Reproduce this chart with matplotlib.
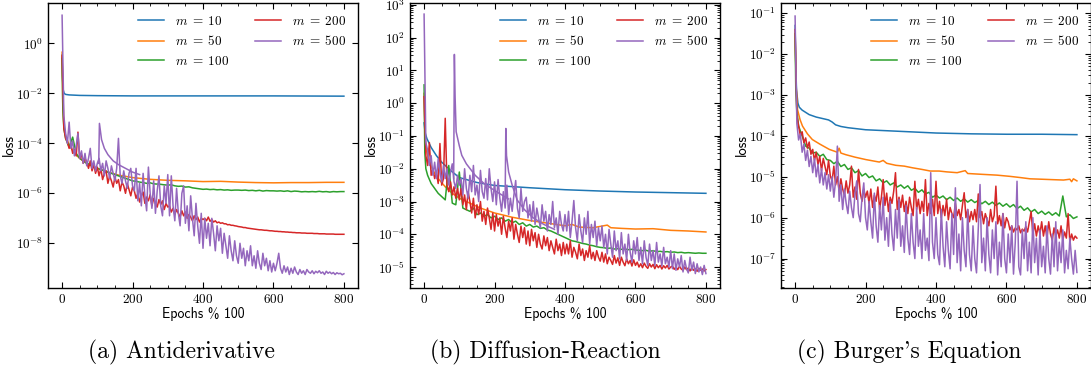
import numpy as np
import matplotlib
matplotlib.use("Agg")
import matplotlib.pyplot as plt
from matplotlib.ticker import FuncFormatter, LogLocator, MultipleLocator, NullLocator

plt.rcParams["mathtext.fontset"] = "cm"

# -----------------------------
# data (log10 of loss)
# -----------------------------
EPOCHS10 = np.r_[0, 2, 5, np.arange(10, 801, 10)]   # grid for the calmer runs
EPOCHS5 = np.arange(0, 801, 5)                      # grid for the noisy runs
LABELS = [r"$m\;=\;10$", r"$m\;=\;50$", r"$m\;=\;100$", r"$m\;=\;200$", r"$m\;=\;500$"]
CAPTIONS = ["(a) Antiderivative", "(b) Diffusion-Reaction", "(c) Burger's Equation"]

# (a) Antiderivative
A_M10 = [(0, -0.45), (1, -1.3), (3, -1.85), (6, -2.0), (10, -2.04), (20, -2.06), (50, -2.08),
         (100, -2.09), (200, -2.1), (400, -2.1), (600, -2.1), (800, -2.11)]
A_M50 = [(0, -0.35), (2, -2.5), (5, -3.3), (10, -3.7), (20, -4.05), (35, -4.4), (50, -4.6),
         (75, -4.85), (100, -5.0), (130, -5.15), (160, -5.27), (200, -5.37), (250, -5.44),
         (300, -5.48), (350, -5.5), (400, -5.53), (450, -5.52), (500, -5.55), (550, -5.57),
         (600, -5.58), (650, -5.57), (700, -5.57), (750, -5.56), (800, -5.56)]
A_M100 = [
    -0.6, -2.6, -3.4,
    -3.8, -4.15, -3.75, -4.4, -4.6, -4.7, -4.8, -4.85, -4.95, -5.0,
    -5.05, -5.1, -5.15, -5.2, -5.25, -5.3, -5.35, -5.4, -5.45, -5.5,
    -5.52, -5.55, -5.57, -5.6, -5.58, -5.62, -5.63, -5.64, -5.66, -5.67,
    -5.66, -5.7, -5.72, -5.71, -5.75, -5.74, -5.78, -5.8, -5.82, -5.84,
    -5.83, -5.85, -5.84, -5.86, -5.85, -5.87, -5.86, -5.88, -5.87, -5.87,
    -5.88, -5.87, -5.89, -5.88, -5.9, -5.88, -5.91, -5.89, -5.9, -5.9,
    -5.91, -5.9, -5.92, -5.9, -5.93, -5.91, -5.92, -5.94, -5.93, -5.94,
    -5.93, -5.94, -5.92, -5.94, -5.93, -5.95, -5.93, -5.94, -5.93, -5.93,
]
A_M200 = [
    -0.5,
    -3.4, -3.8, -3.95, -4.2, -4.05, -4.4, -4.25, -4.5, -3.55, -4.6,
    -4.45, -4.8, -4.6, -4.75, -5.0, -4.7, -5.1, -4.85, -5.2, -4.95,
    -5.3, -5.0, -5.45, -5.2, -5.1, -5.6, -5.3, -5.5, -5.75, -5.35,
    -5.6, -5.45, -5.9, -5.55, -5.7, -6.0, -5.6, -5.85, -6.1, -5.75,
    -5.9, -6.2, -6.0, -6.35, -6.1, -5.95, -6.4, -6.15, -6.3, -6.05,
    -6.5, -6.2, -6.4, -6.55, -6.25, -6.45, -6.3, -6.65, -6.4, -6.55,
    -6.5, -6.75, -6.6, -6.85, -6.65, -6.8, -6.95, -6.7, -6.9, -6.75,
    -7.0, -6.85, -6.95, -7.1, -6.9, -7.05, -6.95, -7.15, -7.0, -7.05,
    -7.0, -7.1, -6.95, -7.12, -7.05, -7.15, -7.1, -7.18, -7.15, -7.2,
    -7.18, -7.22, -7.22, -7.26, -7.25, -7.28, -7.28, -7.3, -7.31, -7.33,
    -7.34, -7.35, -7.37, -7.37, -7.39, -7.4, -7.41, -7.42, -7.43, -7.44,
    -7.45, -7.46, -7.46, -7.47, -7.48, -7.48, -7.49, -7.5, -7.5, -7.51,
    -7.52, -7.52, -7.53, -7.53, -7.54, -7.54, -7.55, -7.55, -7.56, -7.56,
    -7.57, -7.57, -7.58, -7.58, -7.58, -7.59, -7.59, -7.59, -7.6, -7.6,
    -7.6, -7.6, -7.61, -7.61, -7.61, -7.62, -7.62, -7.62, -7.62, -7.63,
    -7.63, -7.63, -7.63, -7.63, -7.64, -7.64, -7.64, -7.64, -7.64, -7.64,
]
A_M500 = [
    1.13,
    -2.9, -3.6, -4.0, -3.15, -4.2, -3.9, -4.5, -4.1, -3.6, -4.6,
    -4.3, -4.8, -4.4, -4.9, -4.6, -4.2, -5.0, -4.7, -5.1, -4.8,
    -4.6, -5.1, -4.8, -5.3, -4.7, -5.0, -5.4, -4.9, -5.2, -5.5,
    -5.0, -3.8, -5.3, -5.6, -5.1, -5.5, -5.8, -5.2, -5.0, -5.7,
    -5.9, -5.0, -6.3, -5.6, -6.5, -5.2, -6.1, -6.7, -4.95, -6.0,
    -6.6, -5.5, -6.8, -5.9, -5.3, -6.5, -6.9, -5.7, -6.4, -5.25,
    -6.9, -5.3, -6.5, -7.1, -5.8, -6.8, -7.3, -6.0, -5.7, -7.2,
    -6.5, -7.5, -6.1, -7.0, -7.7, -6.4, -7.3, -8.0, -6.8, -8.2,
    -7.0, -7.8, -7.2, -8.1, -7.0, -7.6, -8.3, -7.3, -7.9, -7.4,
    -8.4, -7.6, -8.1, -8.6, -7.7, -8.3, -8.7, -7.9, -8.5, -8.8,
    -8.0, -8.6, -8.2, -8.9, -8.3, -8.7, -8.1, -8.9, -8.5, -9.0,
    -8.3, -8.8, -9.05, -8.4, -8.9, -8.6, -9.1, -8.7, -9.15, -8.8,
    -9.1, -8.8, -8.4, -9.0, -9.2, -8.9, -9.15, -8.95, -9.25, -9.0,
    -9.2, -8.95, -9.15, -9.25, -9.05, -9.2, -9.1, -9.25, -9.05, -9.15,
    -9.2, -9.1, -9.22, -9.12, -9.18, -9.1, -9.2, -9.15, -9.25, -9.12,
    -9.2, -9.15, -9.22, -9.17, -9.25, -9.18, -9.22, -9.2, -9.26, -9.22,
]
A_M500_DECAY = [(104, -4.8), (106, -3.2), (112, -3.85), (120, -4.2), (130, -4.45), (145, -4.7),
                (160, -4.85), (180, -5.0), (200, -5.15), (220, -5.25)]

# (b) Diffusion-Reaction
B_M10 = [(0, -0.6), (3, -0.9), (8, -1.08), (20, -1.35), (35, -1.6), (50, -1.8), (75, -2.05),
         (100, -2.27), (150, -2.42), (200, -2.51), (300, -2.58), (400, -2.64), (500, -2.68),
         (600, -2.71), (700, -2.73), (800, -2.75)]
B_M50 = [(0, 0.3), (3, -1.1), (8, -1.5), (15, -1.8), (25, -2.05), (40, -2.3), (60, -2.55),
         (80, -2.75), (100, -2.9), (130, -3.05), (160, -3.2), (200, -3.35), (250, -3.48),
         (300, -3.58), (350, -3.66), (400, -3.74), (420, -3.7), (440, -3.78), (480, -3.8),
         (520, -3.72), (530, -3.8), (560, -3.82), (600, -3.84), (650, -3.83), (700, -3.88),
         (750, -3.9), (800, -3.93)]
B_M100 = [
    0.56, -1.5, -2.0,
    -2.2, -2.45, -2.6, -2.75, -2.85, -2.95, -1.9, -3.05, -3.1, -2.1,
    -3.2, -3.25, -3.3, -3.2, -3.4, -3.35, -3.45, -3.4, -3.5, -3.45,
    -3.55, -3.5, -3.6, -3.55, -3.65, -3.6, -3.7, -3.65, -3.75, -3.7,
    -3.78, -3.75, -3.82, -3.8, -3.87, -3.9, -3.95, -4.0, -4.05, -4.1,
    -4.15, -4.2, -4.22, -4.25, -4.28, -4.3, -4.33, -4.35, -4.38, -4.4,
    -4.41, -4.43, -4.42, -4.45, -4.44, -4.46, -4.45, -4.47, -4.46, -4.48,
    -4.49, -4.5, -4.49, -4.52, -4.5, -4.53, -4.52, -4.54, -4.53, -4.55,
    -4.54, -4.56, -4.55, -4.57, -4.56, -4.57, -4.58, -4.57, -4.58, -4.58,
]
B_M200 = [
    0.2,
    -1.6, -1.9, -1.2, -2.2, -2.0, -2.3, -2.1, -2.45, -1.23, -2.5,
    -2.3, -0.46, -2.5, -2.7, -2.4, -2.8, -2.55, -2.9, -2.6, -2.95,
    -2.6, -3.1, -2.8, -3.25, -2.7, -3.0, -3.35, -2.9, -3.5, -3.1,
    -3.4, -3.0, -3.6, -3.3, -3.7, -3.2, -3.5, -3.85, -3.35, -3.9,
    -3.4, -3.75, -3.5, -4.0, -3.45, -3.8, -4.1, -3.6, -3.9, -3.5,
    -4.15, -3.7, -4.0, -4.25, -3.75, -4.1, -3.8, -4.3, -3.9, -4.35,
    -3.85, -4.2, -3.95, -4.4, -4.0, -4.3, -4.45, -4.05, -4.35, -4.1,
    -4.5, -4.2, -4.4, -4.6, -4.15, -4.5, -4.3, -4.65, -4.25, -4.6,
    -4.3, -4.6, -4.2, -4.7, -4.4, -4.55, -4.75, -4.3, -4.65, -4.45,
    -4.8, -4.5, -4.7, -4.35, -4.75, -4.55, -4.8, -4.5, -4.7, -4.82,
    -4.55, -4.85, -4.6, -4.9, -4.7, -4.8, -4.92, -4.65, -4.88, -4.72,
    -4.95, -4.7, -4.85, -4.96, -4.75, -4.9, -4.8, -4.97, -4.78, -4.95,
    -4.85, -5.0, -4.9, -5.02, -4.88, -4.98, -5.04, -4.9, -5.0, -4.92,
    -5.05, -4.93, -5.02, -4.95, -5.06, -4.96, -5.03, -4.95, -5.06, -5.0,
    -4.97, -5.07, -5.0, -5.08, -4.98, -5.06, -5.1, -5.0, -5.08, -5.03,
    -5.12, -5.02, -5.1, -5.05, -5.13, -5.04, -5.1, -5.06, -5.12, -5.08,
]
B_M500 = [
    2.72,
    -1.2, -1.44, -1.9, -1.6, -2.2, -1.8, -2.3, -1.7, -2.1, -2.4,
    -1.9, -2.3, -2.0, -2.5, -2.1, -1.85, -2.4, -2.6, -2.2, -2.5,
    -2.3, -2.8, -2.0, -2.6, -2.9, -2.2, -2.7, -1.9, -2.8, -2.5,
    -3.0, -2.05, -2.7, -2.9, -2.3, -2.95, -2.0, -2.6, -3.0, -2.4,
    -3.1, -2.33, -2.9, -3.3, -2.7, -3.2, -2.5, -3.4, -2.9, -3.3,
    -2.8, -2.36, -3.2, -3.5, -2.6, -3.3, -3.0, -2.87, -3.5, -3.1,
    -3.6, -3.0, -3.7, -3.2, -3.5, -3.8, -3.1, -3.6, -3.3, -3.9,
    -3.4, -3.7, -3.0, -3.8, -3.5, -4.0, -3.3, -3.7, -3.9, -3.4,
    -3.9, -3.3, -4.1, -3.6, -2.97, -3.8, -4.2, -3.4, -3.9, -4.25,
    -3.5, -4.0, -3.3, -4.3, -3.7, -4.1, -3.6, -4.35, -3.8, -4.2,
    -3.75, -4.4, -4.0, -4.6, -3.85, -4.3, -4.7, -3.9, -4.5, -4.2,
    -4.75, -3.95, -4.6, -4.3, -4.8, -4.0, -4.55, -4.85, -4.2, -4.6,
    -4.1, -4.8, -4.4, -4.9, -4.2, -4.7, -4.95, -4.3, -4.8, -4.5,
    -4.95, -4.25, -4.85, -4.6, -4.97, -4.4, -4.9, -4.7, -5.0, -4.5,
    -5.05, -4.6, -5.1, -4.75, -5.0, -4.65, -5.15, -4.8, -5.05, -5.18,
    -4.7, -5.1, -4.85, -5.2, -4.9, -5.15, -5.0, -5.23, -4.95, -5.2,
]
B_M500_DECAY1 = [(84, -2.3), (86, 1.49), (88, 0.2), (91, -0.87), (100, -1.3), (107, -1.59),
                 (120, -1.85), (145, -2.2), (170, -2.45), (201, -2.67), (239, -2.92)]
B_M500_DECAY2 = [(230, -3.0), (232, -0.77), (234, -1.6), (240, -2.1), (250, -2.5), (264, -2.95),
                 (285, -3.25), (310, -3.5), (340, -3.7), (370, -3.85)]

# (c) Burger's Equation
C_M10 = [(0, -1.3), (2, -2.3), (4, -2.87), (8, -3.2), (12, -3.3), (20, -3.37), (40, -3.48),
         (60, -3.54), (80, -3.58), (95, -3.61), (105, -3.66), (115, -3.73), (130, -3.77),
         (150, -3.8), (200, -3.85), (300, -3.89), (400, -3.93), (500, -3.95), (600, -3.96),
         (700, -3.96), (800, -3.97)]
C_M50 = [(0, -1.5), (3, -2.8), (7, -3.36), (14, -3.6), (21, -3.76), (35, -3.95), (49, -4.09),
         (70, -4.2), (97, -4.33), (120, -4.4), (125, -4.3), (130, -4.42), (144, -4.46),
         (170, -4.52), (201, -4.58), (239, -4.64), (250, -4.6), (260, -4.67), (286, -4.72),
         (310, -4.74), (333, -4.78), (360, -4.82), (384, -4.86), (409, -4.86), (430, -4.88),
         (460, -4.9), (483, -4.85), (490, -4.92), (530, -4.94), (573, -4.96), (610, -4.99),
         (640, -5.02), (667, -5.05), (700, -5.06), (730, -5.07), (762, -5.08), (780, -5.06),
         (785, -5.12), (790, -5.05), (800, -5.1)]
C_M100 = [
    -1.5, -2.9, -3.4,
    -3.76, -4.0, -4.25, -4.3, -4.42, -4.4, -4.5, -4.45, -4.58, -4.6,
    -4.68, -4.62, -4.75, -4.7, -4.82, -4.78, -4.9, -4.85, -4.98, -4.92,
    -5.02, -4.98, -5.1, -5.05, -5.15, -5.1, -5.2, -5.15, -5.25, -5.2,
    -5.28, -5.22, -5.33, -5.28, -5.38, -5.32, -5.42, -5.38, -5.5, -5.45,
    -5.52, -5.47, -5.56, -5.5, -5.58, -5.52, -5.6, -5.54, -5.62, -5.56,
    -5.63, -5.58, -5.66, -5.6, -5.68, -5.62, -5.7, -5.64, -5.72, -5.66,
    -5.74, -5.68, -5.78, -5.72, -5.82, -5.76, -5.86, -5.8, -5.9, -5.84,
    -5.92, -5.86, -5.94, -5.88, -5.96, -5.47, -5.98, -5.93, -6.02, -5.98,
]
C_M200 = [
    -1.4,
    -3.5, -3.76, -4.0, -3.9, -4.17, -4.05, -4.3, -4.15, -4.45, -4.33,
    -4.6, -4.4, -4.7, -4.5, -4.85, -4.55, -4.75, -4.95, -4.6, -4.98,
    -5.1, -4.74, -5.2, -5.0, -5.35, -5.05, -5.3, -5.45, -5.1, -5.4,
    -5.2, -4.74, -5.5, -5.25, -5.55, -4.82, -5.4, -5.6, -5.3, -5.5,
    -5.35, -5.65, -5.3, -5.75, -5.45, -5.6, -5.25, -5.8, -5.5, -5.07,
    -5.7, -5.4, -5.85, -5.5, -5.65, -5.35, -4.9, -5.8, -5.5, -5.75,
    -5.45, -5.85, -5.6, -5.9, -5.5, -5.75, -5.95, -5.11, -5.8, -5.55,
    -5.9, -5.6, -5.85, -5.07, -5.95, -5.65, -5.9, -5.55, -5.95, -5.11,
    -5.9, -5.6, -6.0, -5.7, -5.95, -5.55, -6.05, -5.75, -5.9, -6.0,
    -5.65, -5.95, -5.8, -6.05, -5.7, -5.39, -6.0, -5.8, -6.1, -5.85,
    -6.05, -5.8, -6.1, -5.42, -6.0, -5.85, -6.15, -5.9, -6.05, -6.2,
    -5.8, -6.1, -5.95, -5.23, -6.15, -5.95, -6.2, -5.9, -6.25, -6.0,
    -6.1, -6.3, -6.2, -6.35, -6.25, -6.3, -6.2, -6.37, -6.28, -6.33,
    -6.22, -6.35, -6.1, -5.85, -6.4, -6.15, -6.45, -6.2, -6.4, -6.1,
    -6.45, -6.2, -6.5, -6.1, -6.4, -6.55, -6.25, -6.45, -6.3, -6.5,
    -6.2, -6.55, -6.35, -6.5, -5.9, -6.6, -6.4, -6.55, -6.45, -6.5,
]
C_M500 = [
    -1.07,
    -3.7, -4.1, -3.95, -4.4, -4.2, -4.6, -4.35, -4.75, -4.5, -4.9,
    -4.55, -5.0, -4.7, -5.15, -4.8, -5.2, -4.9, -5.3, -4.95, -5.35,
    -5.0, -5.5, -5.1, -4.25, -5.6, -5.2, -5.8, -5.3, -5.65, -5.9,
    -5.35, -5.75, -6.0, -5.4, -5.1, -5.9, -6.1, -5.5, -5.15, -6.0,
    -6.3, -5.6, -6.1, -6.5, -5.4, -6.2, -6.6, -5.7, -6.3, -5.5,
    -6.55, -6.0, -6.7, -5.6, -6.4, -6.8, -5.8, -6.5, -5.55, -6.7,
    -6.2, -6.85, -5.7, -6.5, -6.9, -5.9, -6.6, -7.0, -5.75, -6.7,
    -6.3, -7.0, -5.9, -6.8, -6.5, -7.05, -4.9, -6.6, -7.0, -6.0,
    -6.9, -7.15, -5.8, -6.7, -7.2, -6.1, -6.8, -7.25, -5.9, -6.9,
    -5.27, -7.1, -6.4, -7.3, -6.0, -6.8, -7.2, -5.8, -6.9, -7.3,
    -6.2, -7.0, -7.35, -6.3, -5.19, -7.1, -6.5, -7.3, -6.0, -6.9,
    -7.35, -6.3, -7.0, -6.1, -7.4, -6.6, -7.2, -5.9, -7.0, -7.35,
    -6.4, -7.1, -6.2, -7.38, -6.6, -5.11, -7.2, -7.4, -6.3, -7.0,
    -6.1, -7.3, -6.6, -7.35, -6.0, -7.1, -6.5, -7.4, -6.3, -7.2,
    -6.7, -7.35, -6.2, -7.0, -7.38, -6.4, -7.2, -6.1, -7.3, -6.6,
    -7.1, -6.3, -7.35, -6.8, -7.25, -6.5, -7.0, -7.38, -6.8, -7.34,
]

# axis limits (log10) per panel
YLIMS = [(-9.79, 1.62), (-5.64, 3.06), (-7.72, -0.75)]


def pairs(p):
    x, l = zip(*p)
    return np.array(x), 10.0 ** np.array(l)


def grid(v):
    x = EPOCHS5 if len(v) == len(EPOCHS5) else EPOCHS10
    return x, 10.0 ** np.array(v)


panels = [
    [pairs(A_M10), pairs(A_M50), grid(A_M100), grid(A_M200), grid(A_M500)],
    [pairs(B_M10), pairs(B_M50), grid(B_M100), grid(B_M200), grid(B_M500)],
    [pairs(C_M10), pairs(C_M50), grid(C_M100), grid(C_M200), grid(C_M500)],
]
extras = [[pairs(A_M500_DECAY)], [pairs(B_M500_DECAY1), pairs(B_M500_DECAY2)], []]
colors = ["C0", "C1", "C2", "C3", "C4"]

fig = plt.figure(figsize=(10.91, 3.68), dpi=100)
lefts = [48 / 1091, 410 / 1091, 781 / 1091]

for i in range(3):
    ax = fig.add_axes([lefts[i], 0.2174, 310 / 1091, 0.7745])
    for (x, y), c, lab in zip(panels[i], colors, LABELS):
        ax.plot(x, y, color=c, lw=1.1, label=lab)
    for x, y in extras[i]:
        ax.plot(x, y, color="C4", lw=1.1)

    ax.set_yscale("log")
    ax.set_xlim(-40, 840)
    ax.set_ylim(10 ** YLIMS[i][0], 10 ** YLIMS[i][1])
    ax.xaxis.set_major_locator(MultipleLocator(200))
    ax.xaxis.set_minor_locator(MultipleLocator(50))
    ax.xaxis.set_major_formatter(FuncFormatter(lambda v, p: rf"${int(v)}$"))
    if i == 0:
        ax.yaxis.set_major_locator(LogLocator(base=100))
        ax.yaxis.set_minor_locator(NullLocator())
    else:
        ax.yaxis.set_major_locator(LogLocator(base=10, numticks=20))
        ax.yaxis.set_minor_locator(LogLocator(base=10, subs=np.arange(2, 10), numticks=20))
    ax.yaxis.set_major_formatter(
        FuncFormatter(lambda v, p: rf"$10^{{{int(round(np.log10(v)))}}}$"))
    ax.yaxis.set_minor_formatter(FuncFormatter(lambda v, p: ""))

    ax.tick_params(which="both", direction="in", top=True, right=True, labelsize=9.5)
    ax.tick_params(which="major", length=4, width=0.8)
    ax.tick_params(which="minor", length=2, width=0.6)
    for s in ax.spines.values():
        s.set_linewidth(1.0)

    ax.set_xlabel("Epochs % 100", family="cmss10", fontsize=10, labelpad=1)
    ax.set_ylabel("loss", family="cmss10", fontsize=10.5, labelpad=0)
    ax.legend(ncol=2, loc="upper right", frameon=False, fontsize=9.5,
              handlelength=2.0, labelspacing=0.5, columnspacing=2.0,
              borderaxespad=0.5)

    fig.text((2 * i + 1) / 6, 0.043, CAPTIONS[i], family="cmr10", fontsize=17,
             ha="center", va="center")

fig.savefig("out.png", dpi=100)
